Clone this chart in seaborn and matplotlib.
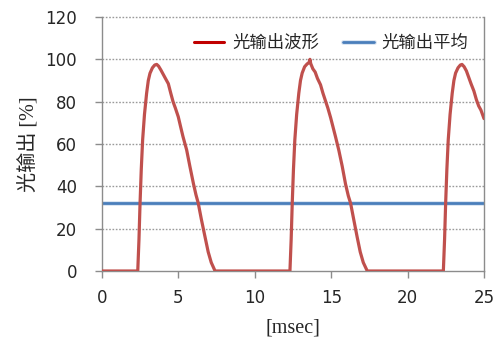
import matplotlib
matplotlib.use("Agg")
import matplotlib.pyplot as plt
import matplotlib.patheffects as pe
import seaborn as sns
import pandas as pd

# Light output waveform samples (time in msec, output in %)
t_wave = [0.0, 2.34, 2.42, 2.49, 2.57, 2.66, 2.78, 2.92, 3.03, 3.14, 3.30, 3.45, 3.58,
          3.70, 3.85, 4.00, 4.15, 4.34, 4.50, 4.65, 4.80, 4.99, 5.15, 5.30, 5.54,
          5.75, 5.98, 6.15, 6.30, 6.50, 6.74, 6.95, 7.15, 7.40,
          12.30, 12.38, 12.45, 12.53, 12.62, 12.74, 12.88, 12.99, 13.10, 13.26, 13.42,
          13.55, 13.61, 13.66, 13.80, 13.95, 14.10, 14.30, 14.46, 14.62, 14.78, 14.96,
          15.12, 15.28, 15.50, 15.72, 15.94, 16.12, 16.27, 16.47, 16.70, 16.90, 17.10, 17.36,
          22.34, 22.42, 22.49, 22.57, 22.66, 22.78, 22.92, 23.03, 23.14, 23.30, 23.45,
          23.56, 23.70, 23.85, 24.00, 24.15, 24.34, 24.50, 24.65, 24.80, 25.00]
v_wave = [0.0, 0.0, 15.0, 32.0, 48.0, 62.0, 74.0, 84.0, 90.0, 93.4, 96.0, 97.3, 97.6,
          96.8, 95.0, 93.0, 91.0, 88.5, 84.0, 80.0, 77.0, 72.9, 68.0, 63.5, 57.2,
          49.5, 41.4, 36.0, 32.0, 24.5, 16.2, 9.0, 4.0, 0.0,
          0.0, 15.0, 32.0, 48.0, 62.0, 74.0, 84.0, 90.0, 93.5, 96.5, 97.8,
          98.5, 100.0, 98.0, 95.5, 94.0, 91.0, 88.0, 84.0, 80.5, 77.0, 72.5,
          68.0, 63.5, 57.0, 49.5, 41.0, 35.5, 32.0, 24.5, 16.0, 9.0, 4.0, 0.0,
          0.0, 15.0, 32.0, 48.0, 62.0, 74.0, 84.0, 90.0, 93.5, 96.0, 97.3,
          97.6, 96.5, 94.5, 91.5, 88.5, 85.0, 81.0, 78.0, 76.0, 72.0]

# Average light output over the same span
t_avg = [0.0, 25.0]
v_avg = [32.3, 32.3]

wave_label = "光输出波形"
avg_label = "光输出平均"
x_ticks = [0, 5, 10, 15, 20, 25]
y_ticks = [0, 20, 40, 60, 80, 100, 120]

sns.set_style("white")
plt.rcParams["font.family"] = ["DejaVu Sans", "Noto Sans CJK SC"]

df_wave = pd.DataFrame({"t": t_wave, "v": v_wave})
df_avg = pd.DataFrame({"t": t_avg, "v": v_avg})

fig = plt.figure(figsize=(4.98, 3.38), dpi=100)
ax = fig.add_axes([102 / 498, 67 / 338, 382 / 498, 254 / 338])

# dotted horizontal gridlines
for y in y_ticks[1:]:
    ax.axhline(y, color="#9a9a9a", lw=1.0, ls=(0, (1.2, 1.2)), zorder=0, clip_on=False)

sns.lineplot(data=df_wave, x="t", y="v", ax=ax, color="#C0504D", lw=2.3,
             label=wave_label, sort=False, zorder=3)
sns.lineplot(data=df_avg, x="t", y="v", ax=ax, color="#4A7EBB", lw=2.0,
             label=avg_label, zorder=2,
             path_effects=[pe.Stroke(linewidth=3.6, foreground="#DCE6F2"), pe.Normal()])

ax.set_xlim(0, 25)
ax.set_ylim(0, 120)
ax.set_xticks(x_ticks)
ax.set_yticks(y_ticks)
ax.tick_params(axis="both", labelsize=12, length=5, width=1, color="#8c8c8c",
               direction="out", bottom=True, left=True)
ax.tick_params(axis="y", pad=13)
ax.tick_params(axis="x", pad=8)
for s in ["left", "bottom", "right"]:
    ax.spines[s].set_color("#8c8c8c")
    ax.spines[s].set_linewidth(1.0)
ax.spines["top"].set_visible(False)

ax.set_xlabel("[msec]", fontsize=14.5, family=["Liberation Serif", "Noto Sans CJK SC"], labelpad=8)
ax.set_ylabel("光输出 [%]", fontsize=14.5, family=["Liberation Serif", "Noto Sans CJK SC"], labelpad=4)

leg = ax.legend(loc="upper right", bbox_to_anchor=(1.0, 0.995), frameon=False, ncol=2,
                handlelength=1.75, columnspacing=1.4, handletextpad=0.45,
                prop={"family": ["Noto Sans CJK SC"], "size": 12.5})
leg.get_lines()[0].set_color("#C00000")
leg.get_lines()[0].set_linewidth(2.2)

fig.savefig("out.png", dpi=100)
